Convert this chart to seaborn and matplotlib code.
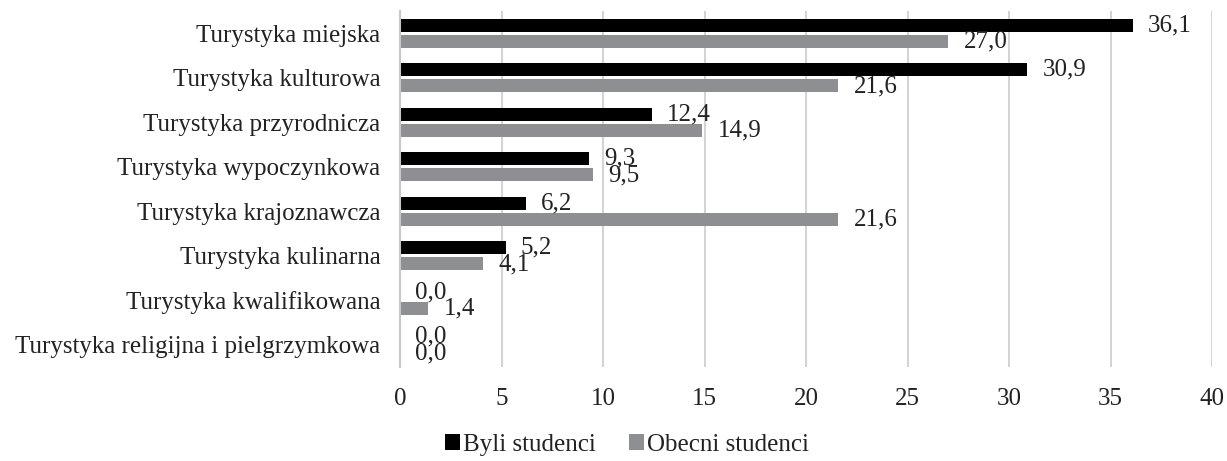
import matplotlib
matplotlib.use("Agg")
import matplotlib.pyplot as plt
import seaborn as sns
import pandas as pd

categories = ["Turystyka miejska", "Turystyka kulturowa", "Turystyka przyrodnicza",
              "Turystyka wypoczynkowa", "Turystyka krajoznawcza", "Turystyka kulinarna",
              "Turystyka kwalifikowana", "Turystyka religijna i pielgrzymkowa"]
byli = [36.1, 30.9, 12.4, 9.3, 6.2, 5.2, 0.0, 0.0]
obecni = [27.0, 21.6, 14.9, 9.5, 21.6, 4.1, 1.4, 0.0]
series = ["Byli studenci", "Obecni studenci"]
colors = ["#000000", "#8E8F92"]

df = pd.DataFrame({
    "Kategoria": categories * 2,
    "Wartość": byli + obecni,
    "Grupa": [series[0]] * len(categories) + [series[1]] * len(categories),
})

sns.set_theme(style="white")
plt.rcParams["font.family"] = ["Liberation Serif", "DejaVu Serif"]

FS = 18
fig = plt.figure(figsize=(12.27, 4.61), dpi=100)
ax = fig.add_axes([400 / 1227, 1 - 367 / 461, 812 / 1227, 356 / 461])

sns.barplot(data=df, y="Kategoria", x="Wartość", hue="Grupa", order=categories,
            hue_order=series, palette=colors, orient="h", width=0.74, gap=0.21,
            saturation=1, linewidth=0, ax=ax, legend=True)

for cont in ax.containers:
    labels = [f"{v:.1f}".replace(".", ",") for v in cont.datavalues]
    ax.bar_label(cont, labels=labels, padding=11, fontsize=FS, color="#222222")

ax.set_xlim(0, 40)
ax.set_xticks(range(0, 41, 5))
ax.grid(axis="x", color="#D4D4D4", linewidth=1.5)
ax.set_axisbelow(True)
ax.set_xlabel("")
ax.set_ylabel("")
for s in ["top", "right", "bottom"]:
    ax.spines[s].set_visible(False)
ax.spines["left"].set_color("#C8C8C8")
ax.spines["left"].set_linewidth(1.5)
ax.tick_params(axis="x", length=0, pad=15, labelsize=FS, labelcolor="#222222")
ax.tick_params(axis="y", length=0, pad=14, labelsize=FS, labelcolor="#222222")

handles, lbls = ax.get_legend_handles_labels()
ax.legend_.remove()
fig.legend(handles, lbls, loc="center", bbox_to_anchor=(627 / 1227, 1 - 445 / 461),
           ncol=2, frameon=False, fontsize=FS, handlelength=0.6, handleheight=0.6,
           handletextpad=0.15, columnspacing=1.3, labelcolor="#222222")

fig.savefig("out.png", dpi=100)
